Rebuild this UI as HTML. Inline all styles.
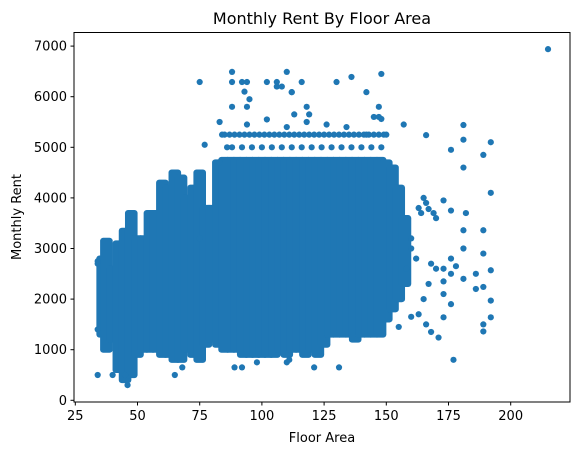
<!DOCTYPE html>
<html><head><meta charset="utf-8"><style>
html,body{margin:0;padding:0;background:#fff;}
svg{display:block;font-family:"DejaVu Sans","Liberation Sans",sans-serif;}
</style></head><body>
<svg id="chart" width="580" height="455" viewBox="0 0 580 455">
<text x="322" y="24" font-size="16" text-anchor="middle" fill="#000">Monthly Rent By Floor Area</text>
<g id="plot"></g>
<rect x="74" y="32.5" width="496" height="369.5" fill="none" stroke="#000" stroke-width="1"/>
<g id="xticks"></g>
<g id="yticks"></g>
<text x="322" y="442" font-size="13" text-anchor="middle">Floor Area</text>
<text transform="translate(21,217) rotate(-90)" font-size="13" text-anchor="middle">Monthly Rent</text>
</svg>
<script>
// Dense core envelope per floor-area column: area, low rent, high rent
const bandArea = [36,37.5,40,42.5,45,47.5,50,52.5,55,57.5,60,62.5,65,67.5,70,72.5,75,77.5,80,82.5,85,87.5,90,92.5,95,97.5,100,102.5,105,107.5,110,112.5,115,117.5,120,122.5,125,127.5,130,132.5,135,137.5,140,142.5,145,147.5,150,152.5,155,157.5];
const bandLow  = [1300,1000,1200,600,400,500,900,1000,1000,1000,900,900,800,800,1000,900,800,1100,1200,1100,1000,1000,1000,900,900,900,900,900,900,1000,900,1000,1000,900,1000,900,1100,1300,1300,1300,1300,1200,1300,1300,1300,1300,1600,1800,2000,2300];
const bandHigh = [2800,3150,2600,3100,3350,3700,3200,3200,3700,3700,4300,4200,4500,4400,4000,4200,4500,3800,3800,4700,4750,4750,4750,4750,4750,4750,4750,4750,4750,4750,4750,4750,4750,4750,4750,4750,4750,4750,4750,4750,4750,4750,4750,4750,4750,4750,4700,4600,4200,3600];
// Individual scattered points
const ptArea = [215,34,34,34,34,40,46,45,65,68,89,92,98,121,131,110,111,75,88,88,88,92,94,93,95,94,102,106,106,108,110,112,116,112,130,136,148,142,118,119,147,145,147,148,157,113,83,166,181,181,181,192,189,192,176,173,176,182,165,166,167,169,170,163,164,181,181,181,189,189,189,192,192,192,189,189,177,171,173,176,173,173,173,176,176,178,186,186,160,162,165,166,168,155,160,163,167,170,168,158,160,75,77,
  83,85,87,89,91,93,95,97,99,101,103,105,107,109,111,113,115,117,119,121,123,125,127,129,131,133,135,137,139,141,143,145,147,149,
  84,88,92,96,100,104,108,112,116,120,124,128,132,136,140,144,148,
  86,94,102,110,118,126,134,142,150];
const ptRent = [6940,500,1400,2750,2700,500,300,500,500,650,650,650,750,650,650,750,800,6290,6490,6290,5800,6290,6290,6100,5950,5800,6290,6290,6200,6200,6490,6090,6290,6090,6290,6390,6450,6090,5800,5650,5800,5600,5600,5560,5450,5650,5500,5240,5440,5150,4600,5100,4850,4100,4950,3950,3750,3700,4000,3900,3780,3700,3600,3800,3700,3360,3000,2400,3360,2900,2240,2570,1970,1640,1500,1360,800,1240,1640,1900,2100,2600,2350,2800,2500,2650,2500,2200,3200,2800,2000,1500,1350,1450,1650,1700,2300,2600,2700,2600,3000,3200,5050,4700,
  5250,5250,5250,5250,5250,5250,5250,5250,5250,5250,5250,5250,5250,5250,5250,5250,5250,5250,5250,5250,5250,5250,5250,5250,5250,5250,5250,5250,5250,5250,5250,5250,5250,5250,
  5000,5000,5000,5000,5000,5000,5000,5000,5000,5000,5000,5000,5000,5000,5000,5000,5000,
  5450,5550,5400,5500,5450,5400,5250,5250,4950];
const xTicks = [25,50,75,100,125,150,175,200];
const yTicks = [0,1000,2000,3000,4000,5000,6000,7000];

const NS = "http://www.w3.org/2000/svg";
const x = v => 75.3 + (v - 25) * 2.488;
const y = v => 400.3 - v * 0.0506;
const C = "#1f77b4", R = 3.1;
const plot = document.getElementById('plot');
for (let i = 0; i < bandArea.length; i++) {
  const r = document.createElementNS(NS, 'rect');
  const cx = x(bandArea[i]);
  r.setAttribute('x', cx - 6.3);
  r.setAttribute('width', 12.6);
  r.setAttribute('y', y(bandHigh[i]) - R);
  r.setAttribute('height', y(bandLow[i]) - y(bandHigh[i]) + 2 * R);
  r.setAttribute('rx', R);
  r.setAttribute('fill', C);
  
  
  plot.appendChild(r);
}
for (let i = 0; i < ptArea.length; i++) {
  const c = document.createElementNS(NS, 'circle');
  c.setAttribute('cx', x(ptArea[i]));
  c.setAttribute('cy', y(ptRent[i]));
  c.setAttribute('r', R);
  c.setAttribute('fill', C);
  
  
  plot.appendChild(c);
}
const xg = document.getElementById('xticks');
xTicks.forEach(t => {
  const l = document.createElementNS(NS, 'line');
  l.setAttribute('x1', x(t)); l.setAttribute('x2', x(t));
  l.setAttribute('y1', 402); l.setAttribute('y2', 405.5);
  l.setAttribute('stroke', '#000');
  
  
  xg.appendChild(l);
  const tx = document.createElementNS(NS, 'text');
  tx.setAttribute('x', x(t)); tx.setAttribute('y', 420);
  tx.setAttribute('font-size', '13'); tx.setAttribute('text-anchor', 'middle');
  tx.textContent = t;
  
  
  xg.appendChild(tx);
});
const yg = document.getElementById('yticks');
yTicks.forEach(t => {
  const l = document.createElementNS(NS, 'line');
  l.setAttribute('x1', 70.5); l.setAttribute('x2', 74);
  l.setAttribute('y1', y(t)); l.setAttribute('y2', y(t));
  l.setAttribute('stroke', '#000');
  
  
  yg.appendChild(l);
  const tx = document.createElementNS(NS, 'text');
  tx.setAttribute('x', 67); tx.setAttribute('y', y(t) + 4.5);
  tx.setAttribute('font-size', '13'); tx.setAttribute('text-anchor', 'end');
  tx.textContent = t;
  
  
  yg.appendChild(tx);
});
</script>
</body></html>
